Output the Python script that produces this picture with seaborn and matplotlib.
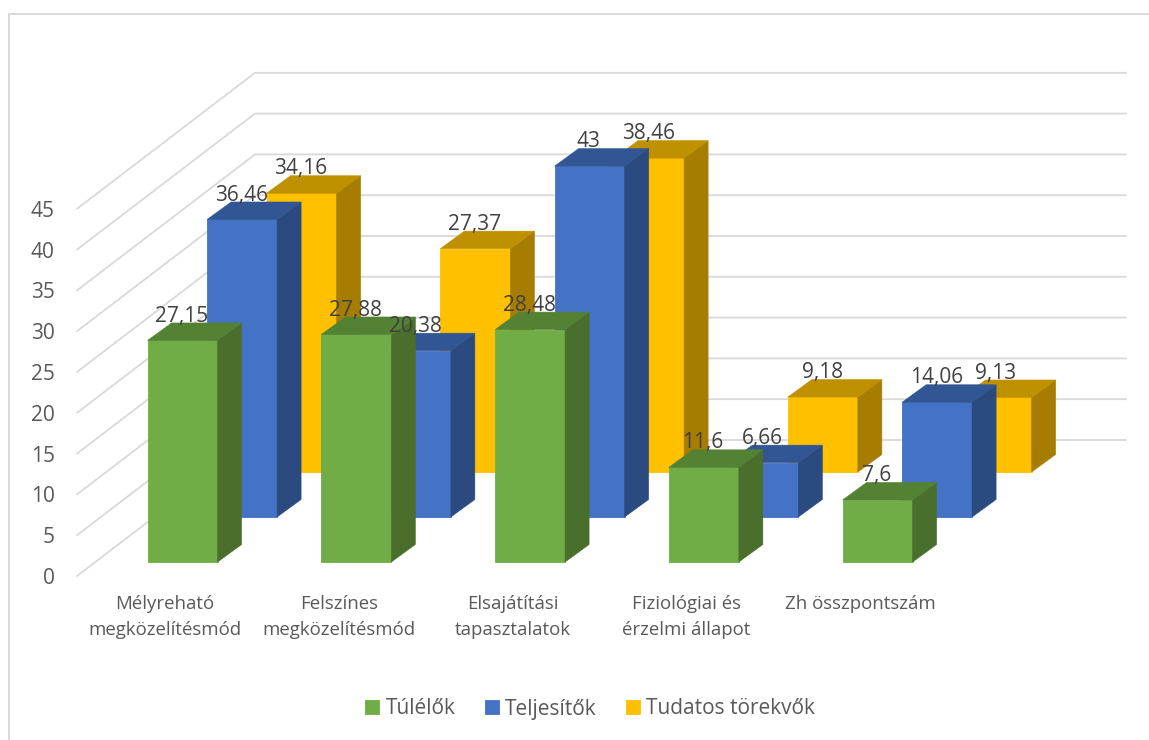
import matplotlib
matplotlib.use("Agg")
import matplotlib.pyplot as plt
from matplotlib.lines import Line2D
import numpy as np
import pandas as pd
import seaborn as sns

categories = ["Mélyreható\nmegközelítésmód", "Felszínes\nmegközelítésmód",
              "Elsajátítási\ntapasztalatok", "Fiziológiai és\nérzelmi állapot", "Zh összpontszám"]
tulelok = [27.15, 27.88, 28.48, 11.6, 7.6]
teljesitok = [36.46, 20.38, 43, 6.66, 14.06]
tudatos = [34.16, 27.37, 38.46, 9.18, 9.13]
y_ticks = [0, 5, 10, 15, 20, 25, 30, 35, 40, 45]

W, H = 1149, 740
PX_X = 173.75          # pixels per category
PX_Y = 8.16            # pixels per value unit
X0, X1, Y0, YTOP = 77, 1126, 576, 73
GREEN_CX, GREEN_BASE = 182.6, 562

sns.set_theme(style="white")
plt.rcParams["font.family"] = ["Open Sans", "DejaVu Sans"]

fig = plt.figure(figsize=(W / 100, H / 100), dpi=100)
ax = fig.add_axes([X0 / W, (H - Y0) / H, (X1 - X0) / W, (Y0 - YTOP) / H])
xmin = (X0 - GREEN_CX) / PX_X
xmax = (X1 - GREEN_CX) / PX_X
ymax = (Y0 - YTOP) / PX_Y

bar_w = 70 / PX_X
step_x = 59.5 / PX_X
step_y = 45 / PX_Y
side_x = 24 / PX_X
side_y = 17.5 / PX_Y
wall_x = 178 / PX_X
wall_y = (Y0 - 440) / PX_Y
floor0 = (Y0 - GREEN_BASE) / PX_Y
GRID = "#D9D9D9"

# walls
for v in y_ticks:
    ax.plot([xmin, xmin + wall_x, xmax], [v, v + wall_y, v + wall_y],
            color=GRID, lw=1.3, zorder=0.5, solid_joinstyle="miter", clip_on=False)

series = [
    ("Tudatos törekvők", tudatos, 2, "#FFC000", "#A67D00", "#BF9000"),
    ("Teljesítők", teljesitok, 1, "#4472C4", "#2A4A80", "#325594"),
    ("Túlélők", tulelok, 0, "#70AD47", "#4A6F2D", "#548235"),
]
idx = np.arange(len(categories))
handles = {}
for name, vals, depth, front, side, top in series:
    z = 4 - depth
    xs = idx + depth * step_x
    base = floor0 + depth * step_y
    df = pd.DataFrame({"x": xs, "v": vals})
    sns.barplot(data=df, x="x", y="v", native_scale=True, width=bar_w, color=front, saturation=1,
                errorbar=None, bottom=base, ax=ax, zorder=z, edgecolor=front, linewidth=0.6,
                label=name, legend=False)
    handles[name] = ax.containers[-1]
    for x, v in zip(xs, vals):
        l, r, b, t = x - bar_w / 2, x + bar_w / 2, base, base + v
        ax.fill([r, r + side_x, r + side_x, r], [b, b + side_y, t + side_y, t],
                color=side, lw=0.4, zorder=z)
        ax.fill([l, r, r + side_x, l + side_x], [t, t, t + side_y, t + side_y],
                color=top, lw=0.4, zorder=z)
        ax.annotate(str(v).replace(".", ","), (x, t + side_y), xytext=(-0.5, 5),
                    textcoords="offset points", ha="center", va="center",
                    fontsize=15, color="#404040", zorder=10, annotation_clip=False)

if ax.get_legend() is not None:
    ax.get_legend().remove()
ax.set_xlim(xmin, xmax)
ax.set_ylim(0, ymax)
ax.set_xlabel("")
ax.set_ylabel("")
sns.despine(ax=ax, left=True, bottom=True)
ax.set_yticks(y_ticks)
ax.tick_params(axis="y", length=0, pad=16, labelsize=15, labelcolor="#595959")
ax.set_xticks(idx - 17.6 / PX_X)
ax.set_xticklabels(categories, linespacing=1.53)
ax.tick_params(axis="x", length=0, pad=14, labelsize=13.4, labelcolor="#595959")
ax.patch.set_visible(False)

order = ["Túlélők", "Teljesítők", "Tudatos törekvők"]
fig.legend([handles[n] for n in order], order, loc="center",
           bbox_to_anchor=(590 / W, 1 - 709 / H), ncols=3, frameon=False, fontsize=15,
           labelcolor="#595959", handlelength=0.67, handleheight=0.67, handletextpad=0.3,
           columnspacing=1.4, borderpad=0, borderaxespad=0)

# chart frame
fig.add_artist(Line2D([9 / W, 9 / W, 1], [0, 1 - 14 / H, 1 - 14 / H], color=GRID, lw=1.4,
                      solid_joinstyle="miter"))

fig.savefig("out.png", dpi=100)
